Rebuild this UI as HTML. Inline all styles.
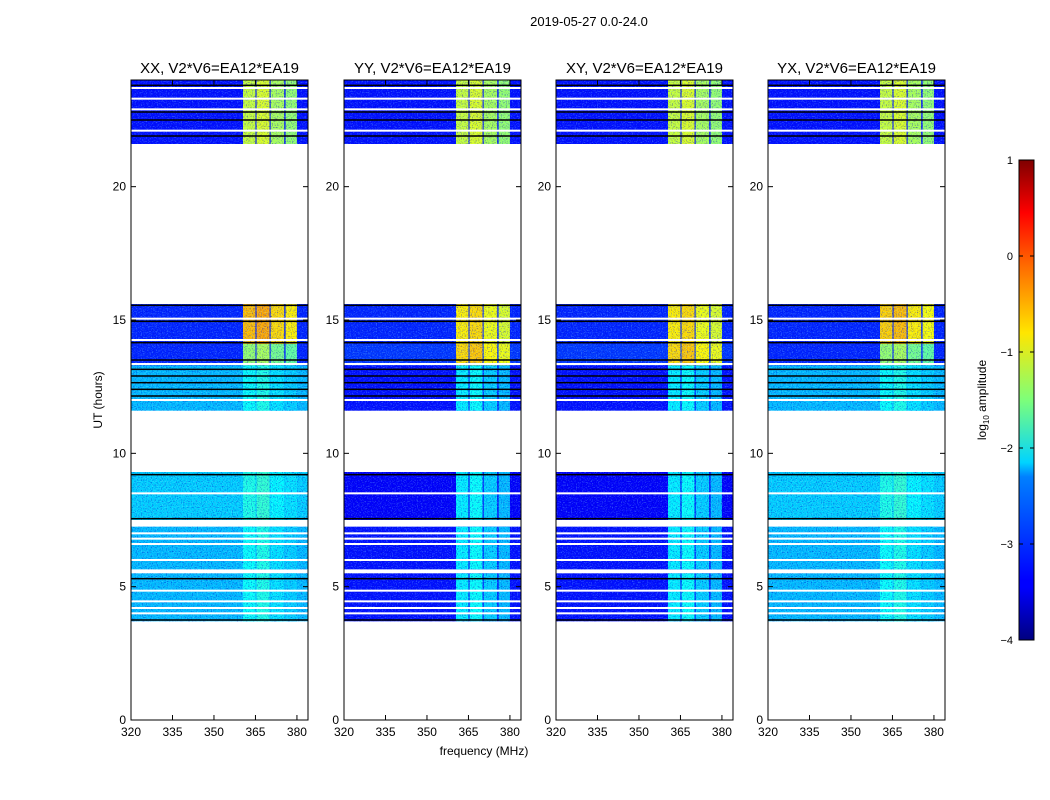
<!DOCTYPE html>
<html><head><meta charset="utf-8"><style>
body{margin:0;background:#fff;}
svg{display:block;font-family:"Liberation Sans","DejaVu Sans",sans-serif;}
</style></head><body>
<svg id="fig" width="1050" height="800" viewBox="0 0 1050 800">
<defs>
<filter id="noiseDark" x="0" y="0" width="100%" height="100%" filterUnits="objectBoundingBox">
<feTurbulence type="fractalNoise" baseFrequency="0.8" numOctaves="1" seed="3" result="n"/>
<feColorMatrix in="n" type="matrix" values="0 0 0 0 0  0 0 0 0 0  0 0 0 0 0.6  3 0 0 0 -1.5"/>
</filter>
<filter id="noiseLight" x="0" y="0" width="100%" height="100%" filterUnits="objectBoundingBox">
<feTurbulence type="fractalNoise" baseFrequency="0.8" numOctaves="1" seed="11" result="n"/>
<feColorMatrix in="n" type="matrix" values="0 0 0 0 0.3  0 0 0 0 0.9  0 0 0 0 1  3 0 0 0 -1.5"/>
</filter>
<linearGradient id="jet" x1="0" y1="1" x2="0" y2="0">
<stop offset="0" stop-color="#00007f"/><stop offset="0.11" stop-color="#0000ff"/>
<stop offset="0.125" stop-color="#0000ff"/><stop offset="0.34" stop-color="#0080ff"/>
<stop offset="0.37" stop-color="#00d4ff"/><stop offset="0.5" stop-color="#7dff7a"/>
<stop offset="0.64" stop-color="#ffe600"/><stop offset="0.78" stop-color="#ff6a00"/>
<stop offset="0.89" stop-color="#ff0000"/><stop offset="1" stop-color="#7f0000"/>
</linearGradient>
</defs>
<text x="589" y="26" font-size="13" text-anchor="middle">2019-05-27 0.0-24.0</text>
<text x="484" y="755" font-size="12" text-anchor="middle">frequency (MHz)</text>
<text x="0" y="0" font-size="12" text-anchor="middle" transform="translate(102,400) rotate(-90)">UT (hours)</text>
<g id="panels"></g>
<g>
<rect x="1019" y="160" width="15" height="480" fill="url(#jet)" stroke="#000" stroke-width="1"/>
<g id="cbticks"></g>
<text x="0" y="0" font-size="12" text-anchor="middle" transform="translate(986,400) rotate(-90)">log<tspan font-size="8" dy="3">10</tspan><tspan dy="-3"> amplitude</tspan></text>
</g>
</svg>
<script>
const titles=["XX, V2*V6=EA12*EA19","YY, V2*V6=EA12*EA19","XY, V2*V6=EA12*EA19","YX, V2*V6=EA12*EA19"];
const panelLeft=[131,344,556,768];
const segStart=[3.7,5.65,7.5,11.6,13.3,14.1,21.6];
const segEnd=[5.5,7.25,9.3,13.3,14.1,15.6,24];
const bgLevel=[[-2.45,-2.45,-2.35,-2.45,-3.2,-3.2,-3.3],[-3.3,-3.3,-3.4,-3.3,-3.1,-3.2,-3.3],[-3.3,-3.3,-3.4,-3.3,-3.1,-3.2,-3.3],[-2.45,-2.45,-2.35,-2.45,-3.2,-3.2,-3.3]];
const bandLevel=[[-2.1,-2.1,-2.0,-2.1,-1.4,-0.55,-1.15],[-2.2,-2.2,-2.2,-2.2,-0.7,-0.8,-1.15],[-2.2,-2.2,-2.2,-2.2,-0.7,-0.8,-1.15],[-2.1,-2.1,-2.0,-2.1,-1.4,-0.65,-1.15]];
const subStart=[360.5,365.4,370.5,375.9];
const subEnd=[365.0,370.1,375.4,380.0];
const subOffset=[0,0.1,-0.15,-0.25];
const whiteLines=[4.0,4.2,4.45,4.85,6.0,6.6,6.8,7.0,8.5,12.0,13.35,14.25,15.05,22.1,22.9,23.3,23.7];
const blackLines=[3.75,5.3,7.55,9.2,12.15,12.4,12.65,12.9,13.15,13.5,14.15,14.95,15.55,21.9,22.5,22.8,23.8];
const yTicks=[0,5,10,15,20];
const xTicks=[320,335,350,365,380];
const cbTicks=[1,0,-1,-2,-3,-4];
const X0=320,X1=384,T0=0,T1=24,W=177,TOP=80,BOT=720;
const ns="http://www.w3.org/2000/svg";
function jet(v){let t=(v+4)/5;t=Math.max(0,Math.min(1,t));
 const r=Math.max(0,Math.min(1,1.5-Math.abs(4*t-3))),g=Math.max(0,Math.min(1,1.5-Math.abs(4*t-2))),b=Math.max(0,Math.min(1,1.5-Math.abs(4*t-1)));
 return `rgb(${Math.round(r*255)},${Math.round(g*255)},${Math.round(b*255)})`;}
function mk(tag,a,p){const e=document.createElementNS(ns,tag);for(const k in a)e.setAttribute(k,a[k]);p.appendChild(e);return e;}
const yS=h=>BOT-(h-T0)/(T1-T0)*(BOT-TOP);
const root=document.getElementById('panels');
titles.forEach((ti,p)=>{
 const L=panelLeft[p];const xS=f=>L+(f-X0)/(X1-X0)*W;
 const g=mk('g',{},root);
 
 
 const cg=mk('g',{},g);
 segStart.forEach((s,i)=>{
  const y1=yS(segEnd[i]),y2=yS(s);
  const r=mk('rect',{x:L,y:y1,width:W,height:y2-y1,fill:jet(bgLevel[p][i])},cg);
  
  
  subStart.forEach((f,j)=>{
   const b=mk('rect',{x:xS(f),y:y1,width:xS(subEnd[j])-xS(f),height:y2-y1,fill:jet(bandLevel[p][i]+subOffset[j])},cg);
   
   
  });
  mk('rect',{x:L,y:y1,width:W,height:y2-y1,filter:'url(#noiseDark)',opacity:0.6},cg);
  mk('rect',{x:L,y:y1,width:W,height:y2-y1,filter:'url(#noiseLight)',opacity:0.4},cg);
 });
 whiteLines.forEach(h=>{const l=mk('rect',{x:L,y:yS(h)-1,width:W,height:2,fill:'#fff'},cg);});
 blackLines.forEach(h=>{const l=mk('rect',{x:L,y:yS(h)-0.75,width:W,height:1.5,fill:'#000'},cg);});
 const fr=mk('rect',{x:L,y:TOP,width:W,height:BOT-TOP,fill:'none',stroke:'#000','stroke-width':1},g);
 
 const t=mk('text',{x:L+W/2,y:73,'font-size':15,'text-anchor':'middle'},g);t.textContent=ti;
 
 yTicks.forEach(v=>{const y=yS(v);mk('line',{x1:L,x2:L+5,y1:y,y2:y,stroke:'#000'},g);mk('line',{x1:L+W-5,x2:L+W,y1:y,y2:y,stroke:'#000'},g);
  const tx=mk('text',{x:L-5,y:y+4,'font-size':12,'text-anchor':'end'},g);tx.textContent=v;
  });
 xTicks.forEach(v=>{const x=xS(v);mk('line',{x1:x,x2:x,y1:BOT,y2:BOT-5,stroke:'#000'},g);mk('line',{x1:x,x2:x,y1:TOP,y2:TOP+5,stroke:'#000'},g);
  const tx=mk('text',{x:x,y:736,'font-size':12,'text-anchor':'middle'},g);tx.textContent=v;
  });
});
const cb=document.getElementById('cbticks');
cbTicks.forEach(v=>{const y=160+(1-v)*96;mk('line',{x1:1019,x2:1023,y1:y,y2:y,stroke:'#000'},cb);mk('line',{x1:1030,x2:1034,y1:y,y2:y,stroke:'#000'},cb);
 const tx=mk('text',{x:1013,y:y+4,'font-size':11,'text-anchor':'end'},cb);tx.textContent=v<0?'\u2212'+(-v):v;
 });
</script>
</body></html>
